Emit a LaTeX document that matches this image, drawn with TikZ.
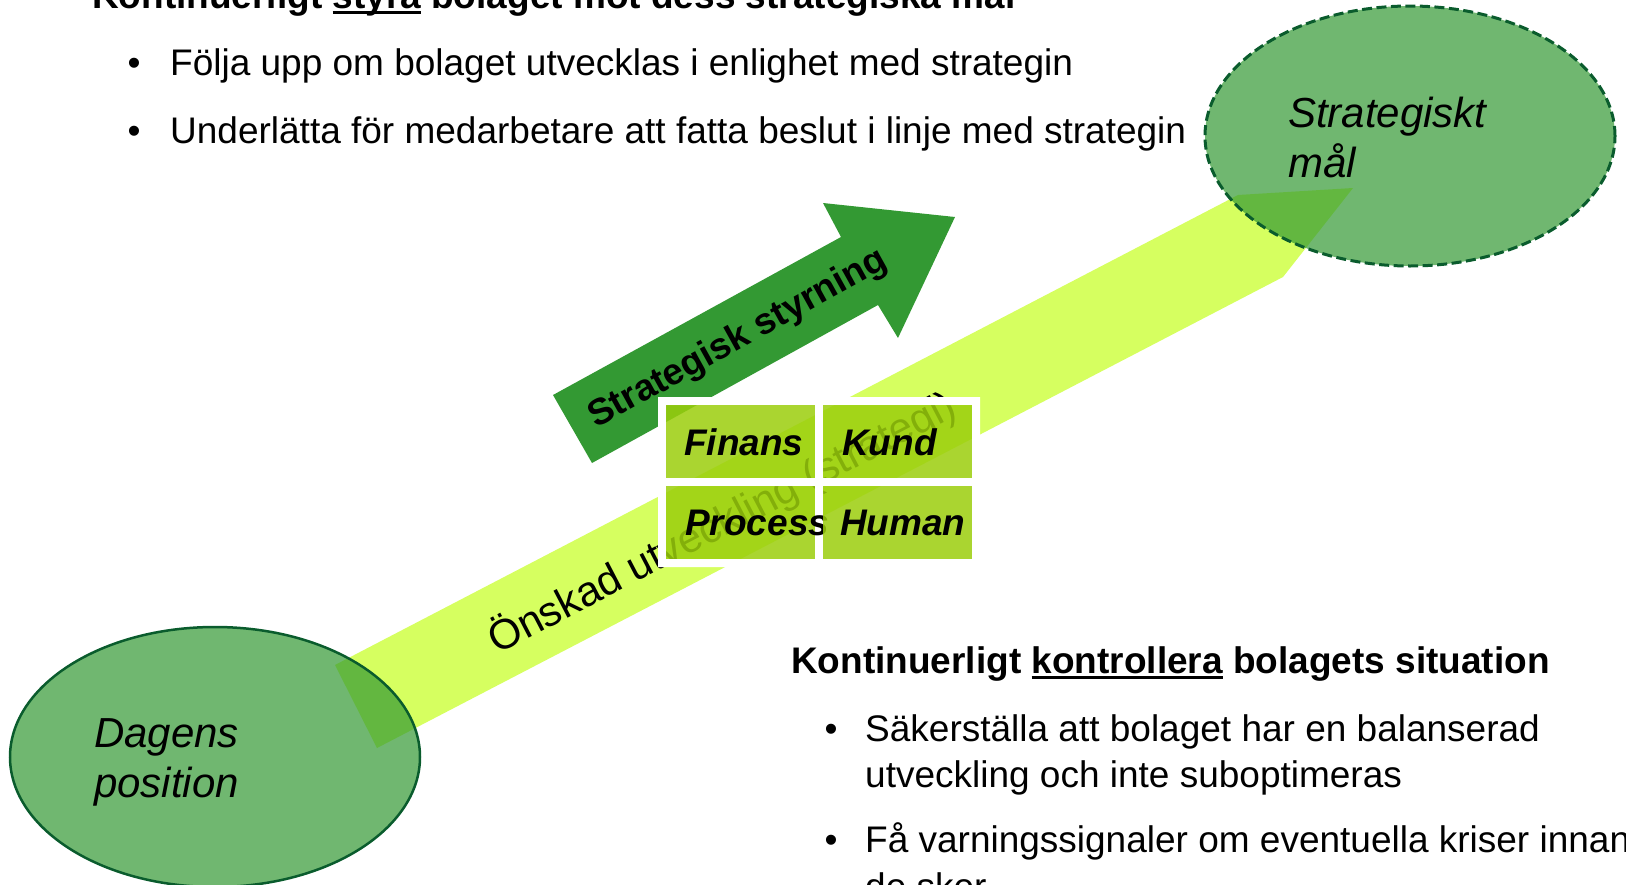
\documentclass[tikz,border=0pt]{standalone}
\usepackage{fontspec}
\setmainfont{Liberation Sans}
\usetikzlibrary{shapes.geometric}
\definecolor{bandc}{RGB}{214,255,96}
\definecolor{arrowc}{RGB}{51,153,51}
\definecolor{ringc}{RGB}{10,92,45}
\definecolor{tilec}{RGB}{155,206,12}
\newcommand\myul[1]{\setbox0=\hbox{#1}\rlap{\rule[-0.16em]{\wd0}{0.07em}}\box0\relax}
\begin{document}
\begin{tikzpicture}[x=1pt,y=-1pt,
  txt/.style={anchor=base west, inner sep=0, font=\fontsize{37}{44}\selectfont},
  hdr/.style={anchor=base west, inner sep=0, font=\fontsize{37}{44}\selectfont\bfseries},
  bul/.style={anchor=base, inner sep=0, font=\fontsize{37}{44}\selectfont},
  ovaltxt/.style={anchor=base west, inner sep=0, font=\fontsize{42}{50}\selectfont\itshape},
  tiletxt/.style={anchor=base west, inner sep=0, font=\fontsize{37}{44}\selectfont\bfseries\itshape},
  oval/.style={ellipse, minimum width=410pt, minimum height=260pt, inner sep=0, fill=arrowc, fill opacity=0.7, draw=ringc, line width=2.5pt},
  tile/.style={anchor=north west, minimum width=149pt, minimum height=73pt, inner sep=0, fill=tilec, fill opacity=0.85, draw=none}
]
\path[use as bounding box] (0,0) rectangle (1626,884);
\clip (0,0) rectangle (1626,884);
% desired development band
\fill[bandc] (335,665) -- (1238,195) -- (1353,188) -- (1283,277) -- (377,748) -- cycle;
\node[rotate=27.5, anchor=base west, inner sep=0, font=\fontsize{42}{50}\selectfont] (onsk) at (497,655) {Önskad utveckling (strategi)};
% strategic steering arrow
\fill[arrowc] (553,395) -- (841,237) -- (823,203) -- (955,217) -- (898,338) -- (878,305) -- (592,463) -- cycle;
\node[rotate=29, anchor=base west, inner sep=0, font=\fontsize{37}{44}\selectfont\bfseries] (styr) at (596,429) {Strategisk styrning};
% white frame around the tiles
\fill[white, even odd rule] (658,397) rectangle (980,567)
  (666,405) rectangle (815,478) (823,405) rectangle (972,478)
  (666,486) rectangle (815,559) (823,486) rectangle (972,559);
\node[tile] (fin) at (666,405) {};
\node[tiletxt] (fint) at (684,455) {Finans};
\node[tile] (kund) at (823,405) {};
\node[tiletxt] (kundt) at (842,455) {Kund};
\node[tile] (proc) at (666,486) {};
\node[tiletxt] (proct) at (685,535) {Process};
\node[tile] (hum) at (823,486) {};
\node[tiletxt] (humt) at (840,535) {Human};
% ellipses
\node[oval] (dag) at (215,757) {};
\node[oval, line width=3pt, dash pattern=on 10pt off 4.5pt] (mal) at (1410,136) {};
\node[ovaltxt] (dagt1) at (94,747) {Dagens};
\node[ovaltxt] (dagt2) at (94,797) {position};
\node[ovaltxt] (malt1) at (1288,127) {Strategiskt};
\node[ovaltxt] (malt2) at (1288,177) {mål};
% text blocks
\node[hdr] (h1) at (92,8) {Kontinuerligt \myul{styra} bolaget mot dess strategiska mål};
\node[bul] (b1) at (134,75) {•};
\node[txt] (t1) at (170,75) {Följa upp om bolaget utvecklas i enlighet med strategin};
\node[bul] (b2) at (134,143) {•};
\node[txt] (t2) at (170,143) {Underlätta för medarbetare att fatta beslut i linje med strategin};
\node[hdr] (h2) at (791,673) {Kontinuerligt \myul{kontrollera} bolagets situation};
\node[bul] (b3) at (831,741) {•};
\node[txt] (t3) at (865,741) {Säkerställa att bolaget har en balanserad};
\node[txt] (t4) at (865,787) {utveckling och inte suboptimeras};
\node[bul] (b4) at (831,852) {•};
\node[txt] (t5) at (865,852) {Få varningssignaler om eventuella kriser innan};
\node[txt] (t6) at (865,899) {de sker};
\end{tikzpicture}
\end{document}
